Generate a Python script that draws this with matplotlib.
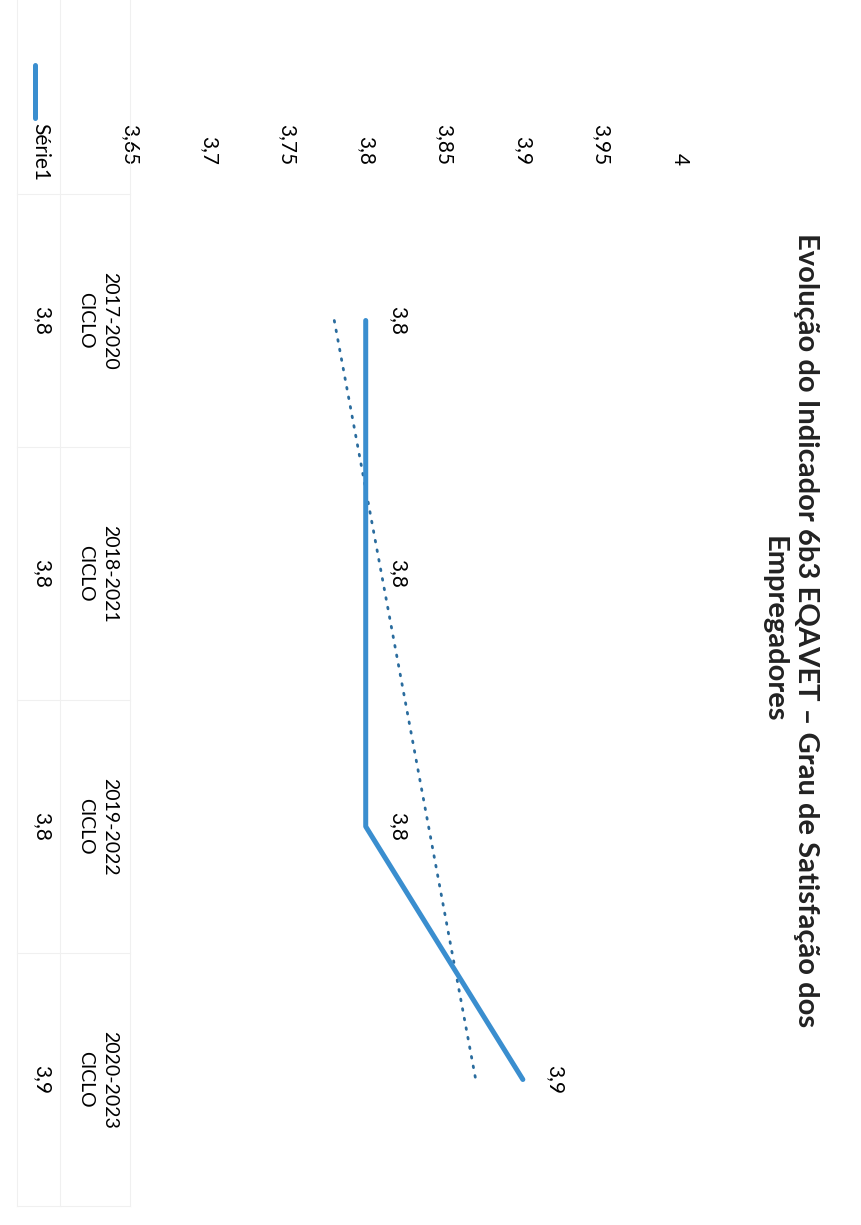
import numpy as np
import matplotlib
matplotlib.use('Agg')
import matplotlib.pyplot as plt
from matplotlib.transforms import blended_transform_factory

# -------------------------------------------------------
# Grafico: Evolucao do Indicador 6b3 EQAVET (pagina digitalizada, girada 90 grados)
# -------------------------------------------------------

# 1. Datos
ciclos = ['2017-2020', '2018-2021', '2019-2022', '2020-2023']
valores = [3.8, 3.8, 3.8, 3.9]
nombre_serie = 'Série1'
marcas_eje = [3.65, 3.7, 3.75, 3.8, 3.85, 3.9, 3.95, 4.0]
titulo = 'Evolução do Indicador 6b3 EQAVET – Grau de Satisfação dos\nEmpregadores'


def coma(v):
    # formato portugues: 3,8 en vez de 3.8
    return f'{v:g}'.replace('.', ',')


plt.rcParams['font.family'] = ['Lato', 'DejaVu Sans']
azul = '#3a8ecf'
azul_tend = '#2a6c9e'
gris_tabla = '#f0f0f0'

fig = plt.figure(figsize=(8.61, 12.25), dpi=100)
ax = fig.add_axes([130 / 861, 1 - 1206 / 1225, 550 / 861, 1012 / 1225])
pos = np.arange(len(ciclos))

# 2. Serie principal (valores en eje horizontal, ciclos hacia abajo)
ax.plot(valores, pos, color=azul, lw=3.6, solid_capstyle='round',
        solid_joinstyle='round', zorder=3)

# linea de tendencia lineal, como la de Excel
m, b = np.polyfit(pos, valores, 1)
ax.plot(m * pos + b, pos, color=azul_tend, lw=2.0,
        linestyle=(0, (0.6, 2.9)), dash_capstyle='round', zorder=2)

# etiquetas de datos
for p, v in zip(pos, valores):
    ax.annotate(coma(v), (v, p), xytext=(23, 0), textcoords='offset points',
                rotation=-90, ha='center', va='center', fontsize=15)

# 3. Ejes
ax.set_xlim(3.65, 4.0)
ax.set_ylim(len(ciclos) - 0.5, -0.5)
ax.xaxis.tick_top()
ax.set_xticks(marcas_eje)
ax.set_xticklabels([coma(t) for t in marcas_eje], rotation=-90, fontsize=15)
ax.tick_params(axis='x', length=0, pad=21)
ax.set_yticks([])
for s in ax.spines.values():
    s.set_visible(False)

# 4. Tabla de datos (debajo del grafico en la orientacion original)
tr = blended_transform_factory(ax.transAxes, ax.transData)
for p, c, v in zip(pos, ciclos, valores):
    ax.text(-0.059, p, c + '\nCICLO', transform=tr, rotation=-90, ha='center',
            va='center', multialignment='center', linespacing=1.55, fontsize=14)
    ax.text(-0.16, p, coma(v), transform=tr, rotation=-90, ha='center',
            va='center', fontsize=15)

# lineas tenues de la tabla
for p in np.arange(-0.5, len(ciclos), 1.0):
    ax.plot([-0.205, 0], [p, p], transform=tr, color=gris_tabla, lw=0.8, clip_on=False)
for xa in [-0.205, -0.127, 0]:
    ax.plot([xa, xa], [0, 1.2], transform=ax.transAxes, color=gris_tabla,
            lw=0.8, clip_on=False)

# clave de la serie
ax.text(-0.163, 1.0415, nombre_serie, transform=ax.transAxes, rotation=-90,
        ha='center', va='center', fontsize=15)
ax.plot([-0.173, -0.173], [1.075, 1.1275], transform=ax.transAxes, color=azul,
        lw=3.6, solid_capstyle='round', clip_on=False)

# 5. Titulo
fig.text(0.9175, 0.486, titulo, rotation=-90, ha='center', va='center',
         multialignment='center', fontsize=21, fontweight='bold',
         linespacing=1.3, color='#222222')

plt.savefig('out.png', dpi=100)
